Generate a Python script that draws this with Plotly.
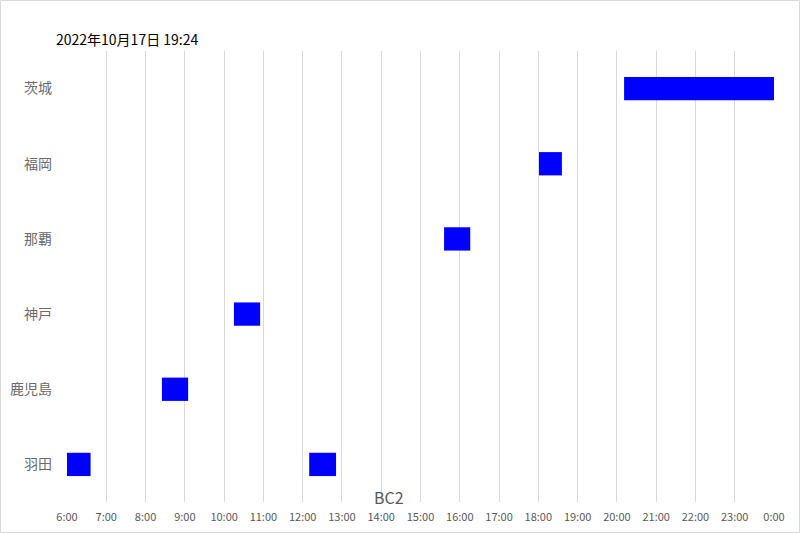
import plotly.graph_objects as go

categories = ["羽田", "鹿児島", "神戸", "那覇", "福岡", "茨城"]
bar_category = ["羽田", "羽田", "鹿児島", "神戸", "那覇", "福岡", "茨城"]
bar_start = ["6:00", "12:10", "8:25", "10:15", "15:36", "18:01", "20:11"]
bar_end = ["6:36", "12:51", "9:05", "10:55", "16:16", "18:36", "24:00"]
tick_hours = list(range(6, 25))
tick_labels = [f"{h % 24}:00" for h in tick_hours]
title_text = "2022年10月17日 19:24"
axis_title = "BC2"


def to_hours(s):
    h, m = s.split(":")
    return int(h) + int(m) / 60.0


starts = [to_hours(s) for s in bar_start]
ends = [to_hours(s) for s in bar_end]
durations = [e - s for s, e in zip(starts, ends)]

W, H = 801, 534
ml, mr, mt, mb = 67, 27, 51, 32
pw, ph = W - ml - mr, H - mt - mb

fig = go.Figure()
fig.add_trace(go.Bar(
    y=bar_category, x=durations, base=starts, orientation="h",
    marker=dict(color="#0000FF", line=dict(width=0)),
    width=0.31, showlegend=False, hoverinfo="skip",
))

font = "Noto Sans CJK JP, Noto Sans, sans-serif"
fig.update_layout(
    width=W, height=H,
    margin=dict(l=ml, r=mr, t=mt, b=mb),
    paper_bgcolor="white", plot_bgcolor="white",
    barmode="overlay",
    font=dict(family=font, color="#595959"),
    xaxis=dict(
        range=[6, 24], tickvals=tick_hours, ticktext=tick_labels,
        showgrid=True, gridcolor="#d9d9d9", gridwidth=1, automargin=False,
        zeroline=False, showline=False, ticks="", ticklabelstandoff=7,
        tickfont=dict(size=11, color="#595959"),
    ),
    yaxis=dict(
        type="category", categoryorder="array", categoryarray=categories,
        range=[-0.5, 5.5], showgrid=False, zeroline=False, showline=False,
        ticks="", ticklabelstandoff=14, automargin=False,
        tickfont=dict(size=14, color="#6b6b6b"),
    ),
    shapes=[dict(
        type="rect", xref="paper", yref="paper",
        x0=-(ml - 0.5) / pw, x1=1 + (mr - 1.5) / pw,
        y0=-(mb - 1.5) / ph, y1=1 + (mt - 0.5) / ph,
        line=dict(color="#d9d9d9", width=1), fillcolor="rgba(0,0,0,0)",
        layer="below",
    )],
    annotations=[
        dict(text=title_text, xref="paper", yref="paper",
             x=-13 / pw, y=1 + 12 / ph, xanchor="left", yanchor="middle",
             showarrow=False, font=dict(size=14, color="#000000", family=font)),
        dict(text=axis_title, xref="paper", yref="paper",
             x=(389 - ml) / pw, y=5 / ph, xanchor="center", yanchor="middle",
             showarrow=False, font=dict(size=16, color="#595959", family=font)),
    ],
)

fig.write_html("out.html", config={"displayModeBar": False},
               post_script="document.body.style.margin='0';document.body.style.padding='0';")
